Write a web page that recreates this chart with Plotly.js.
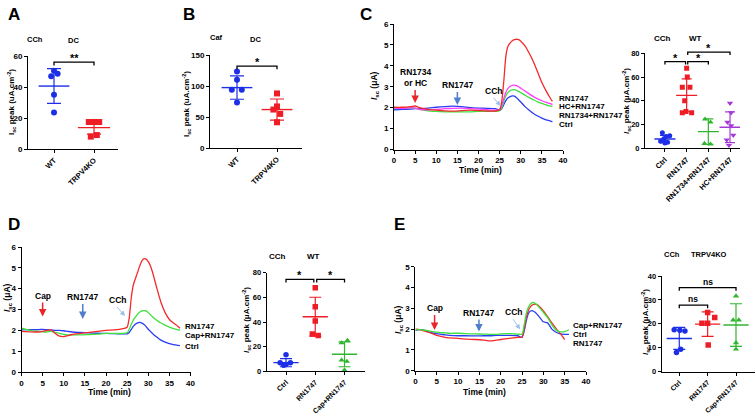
<!DOCTYPE html>
<html><head><meta charset="utf-8">
<script src="https://cdn.plot.ly/plotly-3.0.1.min.js"></script>
<style>html,body{margin:0;padding:0;background:#fff}#g{width:756px;height:416px}</style>
</head><body><div id="g"></div>
<script>
// ================= DATA =================
// Panel A (CCh, DC)
const aCats = ['WT', 'TRPV4KO'];
const aWT = [50.5, 48.5, 47, 35, 23.5];
const aWTj = [0, 0.09, -0.07, 0, 0];
const aKO = [17.4, 17.4, 17.4, 9, 8];
const aKOj = [-0.13, 0, 0.13, 0.07, -0.08];
const aMean = [40.6, 13.8];
const aSD = [11.2, 4.2];
const aBr = [[0, 1, 56, '**']];

// Panel B (Caf, DC)
const bCats = ['WT', 'TRPV4KO'];
const bWT = [123.5, 110, 94, 94, 73.5];
const bWTj = [0, 0, -0.13, 0.12, 0];
const bKO = [88, 67, 62, 55, 41.5];
const bKOj = [0, 0, -0.09, 0.08, 0];
const bMean = [97.4, 62];
const bSD = [18.8, 17];
const bBr = [[0, 1, 132, '*']];

// Panel C traces (time, min; Isc, uA)
const tC = [0,2,4,5,6,8,10,12,14,16,18,20,22,24,25,25.5,26,26.5,27,27.5,28,28.5,29,29.5,30,31,32,33,34,35,36,37,37.5];
const cRedT = [2.02,2.02,2.05,2.08,2.0,1.92,1.88,1.85,1.83,1.86,1.88,1.86,1.84,1.84,1.9,2.3,3.3,4.5,4.95,5.1,5.2,5.25,5.27,5.25,5.18,4.95,4.6,4.2,3.7,3.2,2.8,2.45,2.3];
const cMagT = [1.98,1.97,2.0,1.98,1.92,1.9,1.92,1.95,1.97,1.98,1.95,1.93,1.9,1.88,1.9,2.1,2.45,2.75,2.92,3.02,3.07,3.08,3.05,3.0,2.93,2.8,2.66,2.53,2.42,2.33,2.25,2.19,2.15];
const cGrnT = [1.95,1.97,2.0,1.98,1.92,1.85,1.82,1.8,1.8,1.8,1.8,1.82,1.82,1.82,1.85,2.0,2.3,2.58,2.73,2.82,2.85,2.86,2.83,2.78,2.72,2.6,2.48,2.38,2.28,2.2,2.13,2.08,2.05];
const cBluT = [1.9,1.92,1.93,1.95,1.95,1.98,2.02,2.05,2.07,2.05,2.0,1.98,1.97,1.95,1.88,1.95,2.15,2.35,2.47,2.53,2.56,2.55,2.48,2.38,2.27,2.05,1.88,1.72,1.6,1.5,1.42,1.36,1.33];
const cLabels = ['RN1747', 'HC+RN1747', 'RN1734+RN1747', 'Ctrl'];

// Panel C scatter (CCh, WT)
const cCats = ['Ctrl', 'RN1747', 'RN1734+RN1747', 'HC+RN1747'];
const cCtrl = [13, 10.5, 10, 8, 6, 5, 4.5];
const cCtrlj = [-0.12, 0.22, 0.05, -0.05, -0.2, 0.12, 0];
const cRN = [67.5, 60, 51.5, 51.5, 40, 31, 30, 30];
const cRNj = [0, 0.03, -0.2, 0.15, -0.09, -0.03, 0.23, -0.2];
const cRNA = [24.5, 22, 4, 3.5];
const cRNAj = [-0.15, 0.1, -0.18, 0.1];
const cHC = [38, 30, 22, 19, 11, 7, 2.5];
const cHCj = [0, 0.05, -0.12, 0.05, 0.15, -0.15, -0.05];
const cMean = [7.8, 44.6, 14, 17.7];
const cSD = [3.1, 13.8, 10.7, 13];
const cBr = [[0, 0.95, 73, '*'], [1.05, 2, 73, '*'], [1.05, 3, 81, '*']];

// Panel D traces
const tD = [0,2,4,5,6,7,8,9,10,11,12,14,16,18,20,22,24,25,25.5,26,26.5,27,27.5,28,28.5,29,29.5,30,30.5,31,32,33,34,35,36,37,37.5];
const dRedT = [1.95,1.93,1.92,1.95,2.0,2.02,1.85,1.72,1.7,1.75,1.8,1.85,1.9,1.95,2.0,2.02,2.08,2.15,2.6,3.6,4.2,4.5,4.8,5.1,5.33,5.44,5.42,5.3,5.1,4.8,4.05,3.35,2.85,2.52,2.35,2.2,2.1];
const dGrnT = [2.1,2.0,1.95,1.93,1.92,1.95,1.9,1.85,1.8,1.78,1.78,1.78,1.8,1.82,1.85,1.85,1.85,1.88,2.05,2.3,2.5,2.65,2.78,2.88,2.93,2.95,2.93,2.85,2.75,2.65,2.48,2.35,2.25,2.15,2.08,2.03,2.0];
const dBluT = [2.02,2.03,2.03,2.05,2.03,2.02,2.0,2.0,1.98,1.95,1.92,1.9,1.88,1.86,1.85,1.84,1.83,1.83,1.9,2.05,2.2,2.3,2.36,2.38,2.35,2.28,2.18,2.05,1.95,1.85,1.68,1.53,1.43,1.36,1.31,1.28,1.27];
const dLabels = ['RN1747', 'Cap+RN1747', 'Ctrl'];

// Panel D scatter (CCh, WT)
const dCats = ['Ctrl', 'RN1747', 'Cap+RN1747'];
const dCtrl = [13.5, 7, 7, 5.5, 5];
const dCtrlj = [0, -0.2, 0.15, 0, -0.08];
const dRN = [67.8, 52.4, 40.8, 30.3, 29];
const dRNj = [0, 0, 0, -0.1, 0.1];
const dCap = [25, 23, 9, 8, 1];
const dCapj = [0.1, -0.1, -0.1, 0.08, 0];
const dMean = [7, 44.3, 13.8];
const dSD = [3.3, 15.8, 10.1];
const dBr = [[0, 0.95, 74.6, '*'], [1.05, 2, 74.6, '*']];

// Panel E traces
const tE = [0,1,2,3,4,5,6,7,8,10,12,14,16,17.5,19,20,22,24,25,25.5,26,26.5,27,27.5,28,28.5,29,30,31,32,33,34,35,36];
const eGrnT = [1.95,1.97,1.95,1.92,1.88,1.85,1.83,1.82,1.8,1.8,1.78,1.77,1.76,1.75,1.75,1.77,1.78,1.76,1.75,2.2,2.75,3.05,3.22,3.28,3.25,3.17,3.05,2.8,2.55,2.2,1.95,1.87,1.88,1.97];
const eBluT = [1.93,1.97,1.95,1.88,1.82,1.78,1.75,1.72,1.7,1.68,1.68,1.67,1.68,1.68,1.7,1.7,1.7,1.68,1.6,1.9,2.4,2.75,2.87,2.88,2.82,2.72,2.6,2.35,2.3,2.0,1.85,1.77,1.75,1.75];
const tER = [0,1,2,3,4,5,6,7,8,10,12,14,16,17.5,19,20,22,24,25,25.5,26,26.5,27,27.5,28,28.5,29,30,31,32,33,34,35];
const eRedT = [2.0,1.98,1.92,1.85,1.78,1.7,1.65,1.6,1.58,1.55,1.52,1.5,1.47,1.43,1.47,1.5,1.55,1.6,1.62,2.0,2.55,2.9,3.08,3.17,3.2,3.18,3.1,2.88,2.6,2.3,2.02,1.78,1.5];
const eLabels = ['Cap+RN1747', 'Ctrl', 'RN1747'];

// Panel E scatter (CCh, TRPV4KO)
const eCats = ['Ctrl', 'RN1747', 'Cap+RN1747'];
const eCtrl = [17.5, 17.3, 17, 9.4, 8];
const eCtrlj = [-0.18, 0.02, 0.2, 0.05, -0.1];
const eRN = [24.7, 22.7, 20.2, 20.2, 11.2];
const eRNj = [0, 0.25, -0.2, 0, 0.02];
const eCap = [31.6, 21.6, 21.6, 12.1, 9.4];
const eCapj = [0, -0.1, 0.1, 0, 0];
const eMean = [13.9, 19.9, 19.5];
const eSD = [4.6, 5.1, 8.9];
const eBr = [[0, 1, 27.8, 'ns'], [0, 2, 35.1, 'ns']];

// ================= STYLE / LAYOUT =================
const W = 756, H = 416;
const F = 'Liberation Sans, Arial, Helvetica, sans-serif';
const BLUE = '#1c2fe6', RED = '#ee1d25', GREEN = '#2fb52f', PURPLE = '#a43ad6';
const LBLUE = '#2a3df2', LRED = '#f22a2a', LGREEN = '#3ee03e', LMAG = '#ff3dff';

const px = (a, b) => [a / W, b / W];
const py = (top, bot) => [1 - bot / H, 1 - top / H];

function axBase(domain, range, fs) {
  return {domain, range, showgrid: false, zeroline: false, showline: true, linecolor: '#000', linewidth: 1,
    ticks: 'outside', ticklen: 3, tickwidth: 1, tickcolor: '#000', fixedrange: true,
    tickfont: {family: F, size: fs || 8, color: '#000', weight: 'bold'}};
}
const layout = {
  width: W, height: H, margin: {l: 0, r: 0, t: 0, b: 0}, showlegend: false,
  paper_bgcolor: '#fff', plot_bgcolor: 'rgba(0,0,0,0)', font: {family: F, color: '#000'},
  annotations: []
};
function catAxis(domain, range, cats, ya, fs) {
  return Object.assign(axBase(domain, range, fs || 7.5), {anchor: ya, tickmode: 'array', tickvals: cats.map((c, i) => i), ticktext: cats, tickangle: -45});
}
function numY(domain, range, dtick, xa, fs) { return Object.assign(axBase(domain, range, fs), {anchor: xa, dtick: dtick, tick0: 0}); }
function timeX(domain, ya) { return Object.assign(axBase(domain, [0, 40]), {anchor: ya, dtick: 5, tick0: 0}); }

// A
layout.xaxis = catAxis(px(28, 118), [-0.65, 1.6], aCats, 'y');
layout.yaxis = numY(py(56, 149), [0, 60], 20, 'x');
// B
layout.xaxis2 = catAxis(px(210, 302), [-0.675, 1.625], bCats, 'y2');
layout.yaxis2 = numY(py(55, 148), [0, 150], 50, 'x2');
// C traces
layout.xaxis3 = timeX(px(394, 563), 'y3');
layout.yaxis3 = numY(py(24, 149.5), [0, 6], 1, 'x3');
// C scatter
layout.xaxis4 = catAxis(px(645, 740), [-0.92, 3.46], cCats, 'y4');
layout.yaxis4 = numY(py(53.3, 148.3), [0, 80], 20, 'x4', 7.5);
// invisible taller twin of the C-scatter y axis (same scale) so the top bracket is not clipped
layout.yaxis9 = {domain: py(38, 148.3), range: [0, 80 * (148.3 - 38) / (148.3 - 53.3)], visible: false, anchor: 'x4', fixedrange: true};
// D traces
layout.xaxis5 = timeX(px(21.5, 190.5), 'y5');
layout.yaxis5 = numY(py(247, 372), [0, 6], 1, 'x5');
// D scatter
layout.xaxis6 = catAxis(px(266.7, 365), [-0.66, 2.7], dCats, 'y6', 7.2);
layout.yaxis6 = numY(py(272.7, 371.3), [0, 80], 20, 'x6', 7.5);
// E traces
layout.xaxis7 = timeX(px(415.4, 586), 'y7');
layout.yaxis7 = numY(py(266.7, 370.7), [0, 5], 1, 'x7');
// E scatter
layout.xaxis8 = catAxis(px(661.7, 755), [-0.62, 2.67], eCats, 'y8', 7);
layout.yaxis8 = numY(py(276, 371.7), [0, 40], 10, 'x8', 7.5);

const data = [];
const sfx = n => (n > 1 ? String(n) : '');
function pts(n, idx, vals, jit, color, symbol, size) {
  data.push({x: vals.map((v, k) => idx + jit[k]), y: vals, xaxis: 'x' + sfx(n), yaxis: 'y' + sfx(n),
    mode: 'markers', hoverinfo: 'skip', marker: {symbol, color, size, line: {width: 0}}});
}
function meanSD(n, idx, m, sd, color, w, cap) {
  data.push({x: [idx], y: [m], xaxis: 'x' + sfx(n), yaxis: 'y' + sfx(n), mode: 'markers', hoverinfo: 'skip',
    marker: {symbol: 'line-ew', size: w, color, line: {color, width: 1.4}},
    error_y: {type: 'data', array: [sd], visible: true, color, thickness: 1.2, width: cap}});
}
function brackets(nx, ny, list, d) {
  const xa = 'x' + sfx(nx), ya = 'y' + sfx(ny);
  list.forEach(b => {
    data.push({x: [b[0], b[0], b[1], b[1]], y: [b[2] - d, b[2], b[2], b[2] - d], xaxis: xa, yaxis: ya, mode: 'lines',
      hoverinfo: 'skip', line: {color: '#000', width: 1.3}});
    const ns = b[3] === 'ns';
    layout.annotations.push({xref: xa, yref: ya, x: (b[0] + b[1]) / 2, y: b[2], text: '<b>' + b[3] + '</b>', showarrow: false,
      yanchor: 'bottom', yshift: ns ? -1 : -4, font: {family: F, size: ns ? 8.5 : 11, color: '#000'}});
  });
}
function line(n, t, v, color) {
  data.push({x: t, y: v, xaxis: 'x' + n, yaxis: 'y' + n, mode: 'lines', hoverinfo: 'skip', line: {color, width: 1.3, shape: 'spline', smoothing: 0.6}});
}

// A
pts(1, 0, aWT, aWTj, BLUE, 'circle', 6);
pts(1, 1, aKO, aKOj, RED, 'square', 6);
meanSD(1, 0, aMean[0], aSD[0], BLUE, 22, 7);
meanSD(1, 1, aMean[1], aSD[1], RED, 23, 7);
brackets(1, 1, aBr, 2.2);
// B
pts(2, 0, bWT, bWTj, BLUE, 'circle', 6);
pts(2, 1, bKO, bKOj, RED, 'square', 6);
meanSD(2, 0, bMean[0], bSD[0], BLUE, 22, 7);
meanSD(2, 1, bMean[1], bSD[1], RED, 22, 7);
brackets(2, 2, bBr, 5);
// C traces
line(3, tC, cBluT, LBLUE);
line(3, tC, cGrnT, LGREEN);
line(3, tC, cMagT, LMAG);
line(3, tC, cRedT, LRED);
// C scatter
pts(4, 0, cCtrl, cCtrlj, BLUE, 'circle', 5);
pts(4, 1, cRN, cRNj, RED, 'square', 5);
pts(4, 2, cRNA, cRNAj, GREEN, 'triangle-up', 5.5);
pts(4, 3, cHC, cHCj, PURPLE, 'triangle-down', 5.5);
meanSD(4, 0, cMean[0], cSD[0], BLUE, 15, 5);
meanSD(4, 1, cMean[1], cSD[1], RED, 15, 5);
meanSD(4, 2, cMean[2], cSD[2], GREEN, 15, 5);
meanSD(4, 3, cMean[3], cSD[3], PURPLE, 15, 5);
brackets(4, 9, cBr, 2.5);
// D traces
line(5, tD, dBluT, LBLUE);
line(5, tD, dGrnT, LGREEN);
line(5, tD, dRedT, LRED);
// D scatter
pts(6, 0, dCtrl, dCtrlj, BLUE, 'circle', 5.5);
pts(6, 1, dRN, dRNj, RED, 'square', 5.5);
pts(6, 2, dCap, dCapj, GREEN, 'triangle-up', 5.5);
meanSD(6, 0, dMean[0], dSD[0], BLUE, 18, 6);
meanSD(6, 1, dMean[1], dSD[1], RED, 18, 6);
meanSD(6, 2, dMean[2], dSD[2], GREEN, 18, 6);
brackets(6, 6, dBr, 2.5);
// E traces
line(7, tE, eBluT, LBLUE);
line(7, tER, eRedT, LRED);
line(7, tE, eGrnT, LGREEN);
// E scatter
pts(8, 0, eCtrl, eCtrlj, BLUE, 'circle', 5.5);
pts(8, 1, eRN, eRNj, RED, 'square', 5.5);
pts(8, 2, eCap, eCapj, GREEN, 'triangle-up', 5.5);
meanSD(8, 0, eMean[0], eSD[0], BLUE, 18, 6);
meanSD(8, 1, eMean[1], eSD[1], RED, 18, 6);
meanSD(8, 2, eMean[2], eSD[2], GREEN, 18, 6);
brackets(8, 8, eBr, 1.3);

// ---------- text annotations ----------
function txt(x, y, text, size, opt) {
  layout.annotations.push(Object.assign({xref: 'paper', yref: 'paper', x: x / W, y: 1 - y / H, text, showarrow: false,
    xanchor: 'center', yanchor: 'middle', font: {family: F, size, color: '#000'}}, opt || {}));
}
// panel letters
[['A', 14, 15], ['B', 189, 15], ['C', 366, 15], ['D', 14, 224], ['E', 399, 224]].forEach(l => txt(l[1], l[2], '<b>' + l[0] + '</b>', 17));
// condition headers
txt(35, 39, '<b>CCh</b>', 7.5); txt(73, 40, '<b>DC</b>', 7.5);
txt(216, 37, '<b>Caf</b>', 7.5); txt(255, 39, '<b>DC</b>', 7.5);
txt(662, 38, '<b>CCh</b>', 8); txt(695, 38, '<b>WT</b>', 8);
txt(277, 256, '<b>CCh</b>', 8); txt(313, 256, '<b>WT</b>', 8);
txt(672, 254, '<b>CCh</b>', 7.5); txt(709, 254, '<b>TRPV4KO</b>', 7.5);
// axis titles
const ytA = '<b>I<sub>sc</sub> peak (uA.cm<sup>-2</sup>)</b>';
const ytC = '<b><i>I</i><sub>sc</sub> peak (μA.cm<sup>-2</sup>)</b>';
const ytT = '<b><i>I</i><sub>sc</sub> (μA)</b>';
txt(11, 102, ytA, 8, {textangle: -90});
txt(186, 104, ytA, 8, {textangle: -90});
txt(375, 86, ytT, 8.5, {textangle: -90});
txt(626, 101, ytC, 8, {textangle: -90});
txt(7, 298, ytT, 8.5, {textangle: -90});
txt(246, 320, ytC, 8, {textangle: -90});
txt(398, 320, ytT, 8.5, {textangle: -90});
txt(645, 322, ytC, 8, {textangle: -90});
txt(480, 170, '<b>Time (min)</b>', 8.5);
txt(109, 392, '<b>Time (min)</b>', 8.5);
txt(484, 392, '<b>Time (min)</b>', 8.5);
// series end labels
[[98.7, 0], [107, 1], [115.5, 2], [124, 3]].forEach(p => txt(557, p[0], '<b>' + cLabels[p[1]] + '</b>', 8, {xanchor: 'left'}));
[[326, 0], [335, 1], [346, 2]].forEach(p => txt(183, p[0], '<b>' + dLabels[p[1]] + '</b>', 8, {xanchor: 'left'}));
[[325.5, 0], [334.5, 1], [343.5, 2]].forEach(p => txt(571, p[0], '<b>' + eLabels[p[1]] + '</b>', 8, {xanchor: 'left'}));

// ---------- treatment arrows (label text sits at the arrow tail) ----------
function arrow(n, x, y, ax, ay, color, w, text) {
  layout.annotations.push({xref: 'x' + n, yref: 'y' + n, x, y, ax, ay, text: '<b>' + text + '</b>', showarrow: true,
    xanchor: 'center', yanchor: 'bottom', standoff: 0, startstandoff: 0,
    arrowhead: 2, arrowsize: 1, arrowwidth: w, arrowcolor: color, font: {family: F, size: 8.5, color: '#000'}});
}
// C
arrow(3, 5, 2.22, 0, -13, '#e8262a', 1.5, 'RN1734<br>or HC');
arrow(3, 15, 2.13, 0, -13, '#4f7fc9', 1.5, 'RN1747');
arrow(3, 25.25, 2.08, -7, -8, '#9cbfe6', 1, 'CCh');
// D
arrow(5, 5, 2.66, 0, -14, '#e8262a', 1.5, 'Cap');
arrow(5, 14.5, 2.55, 0, -15, '#4f7fc9', 1.5, 'RN1747');
arrow(5, 24.5, 2.69, -8, -9, '#9cbfe6', 1, 'CCh');
// E
arrow(7, 4.5, 1.96, 0, -15, '#e8262a', 1.5, 'Cap');
arrow(7, 14.9, 1.88, 0, -12, '#4f7fc9', 1.5, 'RN1747');
arrow(7, 24.55, 1.99, -7, -10, '#9cbfe6', 1, 'CCh');

Plotly.newPlot('g', data, layout, {staticPlot: true, displayModeBar: false});
</script>
</body></html>
